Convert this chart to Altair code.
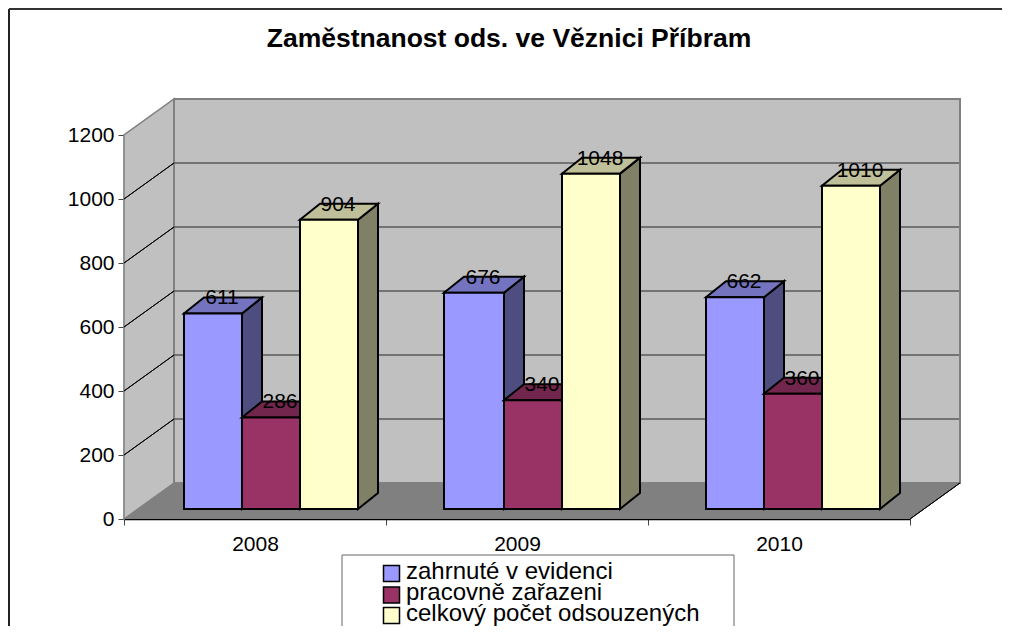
import altair as alt
import pandas as pd

years = ["2008", "2009", "2010"]
series = ["zahrnuté v evidenci", "pracovně zařazeni", "celkový počet odsouzených"]
evidence = [611, 676, 662]
employed = [286, 340, 360]
total = [904, 1048, 1010]
values = [evidence, employed, total]

front = ["#9999FF", "#993366", "#FFFFCC"]
top = ["#7373BF", "#73264D", "#BFBF99"]
side = ["#4D4D80", "#4D1A33", "#808066"]

# layout: x scale runs in pixels, y scale in value units
PX = 0.32            # pixels per value unit
W, H = 786, 384
OX, OY = 124, 519    # page position of the axis origin
WALL_DX, WALL_DY = 50, 36
BASE_DY = 10
BAR_DX, BAR_DY = 20, 16
SLOT = 262
edges = [[60, 118, 176, 234], [58, 118, 176, 234], [58, 116, 174, 232]]


def vy(page_y):
    return (OY - page_y) / PX


polys = []


def poly(pts, fill="none", stroke="none", sw=1.0):
    pid = polys[-1]["pid"] + 1 if polys else 0
    for k, (x, y) in enumerate(pts):
        polys.append(dict(pid=pid, k=k, x=x, y=y, fill=fill, stroke=stroke, sw=sw))


wdx, wdy = WALL_DX, WALL_DY / PX
poly([(0, 0), (wdx, wdy), (wdx, wdy + 1200), (0, 1200)], "#C0C0C0", "#808080", 1.5)
poly([(wdx, wdy), (W + wdx, wdy), (W + wdx, wdy + 1200), (wdx, wdy + 1200)], "#C0C0C0", "#808080", 2)
for v in range(200, 1200, 200):
    poly([(wdx, wdy + v), (W + wdx - 1, wdy + v)], "none", "#5A5A5A", 1.5)
    poly([(0, v), (wdx, wdy + v)], "none", "#000000", 1)
poly([(0, 0), (W, 0), (W + wdx, wdy), (wdx, wdy)], "#808080", "none", 1)
poly([(W, 0), (W + wdx, wdy)], "none", "#000000", 1)

bdx, bdy, by = BAR_DX, BAR_DY / PX, BASE_DY / PX
labels = []
for g in range(3):
    e = [SLOT * g + d for d in edges[g]]
    for s in range(3):
        l, r, v = e[s], e[s + 1], values[s][g]
        poly([(r, by), (r + bdx, by + bdy), (r + bdx, by + bdy + v), (r, by + v)], side[s], "#000000", 2)
        poly([(l, by + v), (r, by + v), (r + bdx, by + bdy + v), (l + bdx, by + bdy + v)], top[s], "#000000", 2)
        poly([(l, by), (r, by), (r, by + v), (l, by + v)], front[s], "#000000", 2)
        labels.append(dict(x=(l + r) / 2 + 9, y=by + bdy + v, t=str(v)))

# outer frame (left and top edges only) and legend box
poly([(9 - OX, vy(640)), (9 - OX, vy(9))], "none", "#222222", 2)
poly([(9 - OX, vy(9)), (1010 - OX, vy(9))], "none", "#333333", 2)
poly([(342 - OX, vy(660)), (342 - OX, vy(555)), (734 - OX, vy(555)), (734 - OX, vy(660))], "none", "#666666", 1)

df = pd.DataFrame(polys)
ldf = pd.DataFrame(labels)
legend_df = pd.DataFrame({
    "s": series,
    "fill": front,
    "sx": [391.5 - OX] * 3,
    "sy": [vy(573.5), vy(595), vy(615.5)],
    "tx": [406 - OX] * 3,
    "ty": [vy(579), vy(600), vy(621)],
})

xs = alt.Scale(domain=[0, W], range=[0, W])
ys = alt.Scale(domain=[0, 1200], range=[H, 0])
FONT = "Liberation Sans"

x_axis = alt.Axis(
    title=None,
    values=[SLOT * i / 2 for i in range(7)],
    labelExpr="datum.value % 262 == 0 ? '' : (2008 + floor(datum.value / 262))",
    labelFont=FONT, labelFontSize=21, labelColor="#000000", labelPadding=8, labelFlush=False,
    labelOverlap=False, labelBaseline="top",
    tickColor={"condition": {"test": "datum.value % 262 == 0", "value": "#444444"}, "value": "transparent"},
    tickSize=6, domainColor="#000000", domainWidth=1.5, grid=False,
)
y_axis = alt.Axis(
    title=None, values=list(range(0, 1201, 200)), format="d", labelFont=FONT, labelFontSize=21,
    labelColor="#000000", labelPadding=4, tickSize=6, tickColor="#444444", domainColor="#333333",
    domainWidth=1.5, grid=False,
)

base = alt.Chart(df).mark_line(interpolate="linear-closed").encode(
    x=alt.X("x:Q", scale=xs, axis=x_axis),
    y=alt.Y("y:Q", scale=ys, axis=y_axis),
    detail="pid:N",
    order="k:Q",
    fill=alt.Fill("fill:N", scale=None),
    stroke=alt.Stroke("stroke:N", scale=None),
    strokeWidth=alt.StrokeWidth("sw:Q", scale=None),
)

text = alt.Chart(ldf).mark_text(font=FONT, fontSize=21, color="#000000", baseline="alphabetic", dy=7).encode(
    x=alt.X("x:Q", scale=xs), y=alt.Y("y:Q", scale=ys), text="t:N"
)

legend_symbols = alt.Chart(legend_df).mark_square(size=256, opacity=1, stroke="#000000", strokeWidth=1.5).encode(
    x=alt.X("sx:Q", scale=xs), y=alt.Y("sy:Q", scale=ys), fill=alt.Fill("fill:N", scale=None),
)
legend_labels = alt.Chart(legend_df).mark_text(
    font=FONT, fontSize=24, color="#000000", align="left", baseline="alphabetic"
).encode(x=alt.X("tx:Q", scale=xs), y=alt.Y("ty:Q", scale=ys), text="s:N")

chart = alt.layer(base, text, legend_symbols, legend_labels).properties(
    width=W, height=H,
    title=alt.TitleParams(
        "Zaměstnanost ods. ve Věznici Příbram", font=FONT, fontSize=26.5, fontWeight="bold",
        color="#000000", anchor="middle", dx=-8, offset=-47,
    ),
    padding={"left": OX - 8, "top": 135 - 8, "right": 92, "bottom": 107},
    autosize="none",
).configure_view(stroke=None).configure(background="white")

chart.save("out.html", embed_options={"renderer": "svg", "actions": False})
